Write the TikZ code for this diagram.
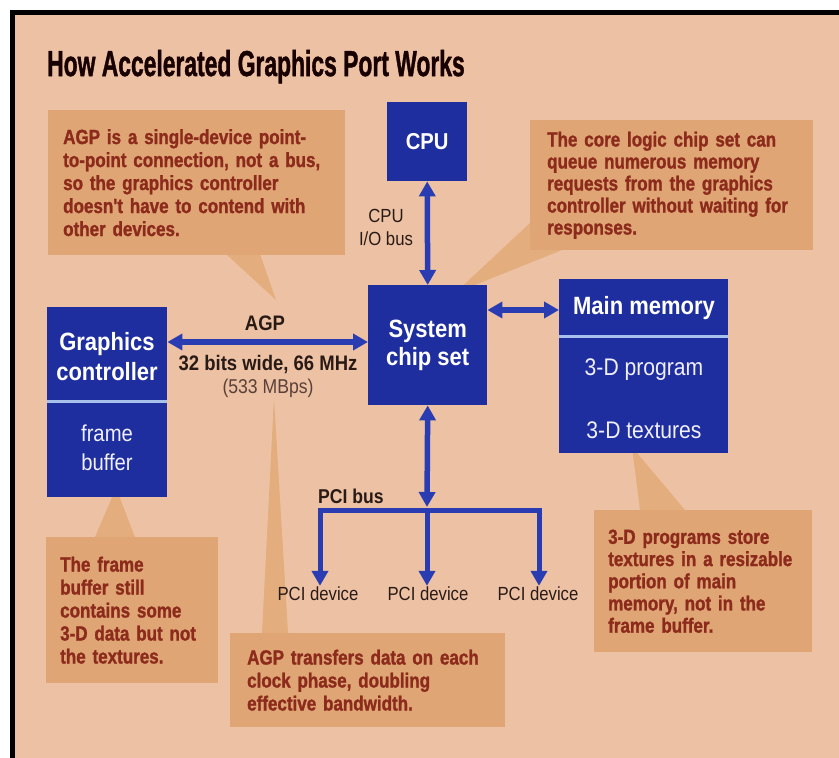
\documentclass[tikz,border=0pt]{standalone}
\usepackage{fontspec}
\usepackage{graphicx}
\setmainfont{Liberation Sans}[FakeStretch=0.88]
\newfontfamily\calfont{Liberation Sans Bold}[FakeStretch=0.83,FakeBold=1.2]
\newfontfamily\titlefont{Liberation Sans Bold}[FakeBold=1.5]
\usetikzlibrary{arrows.meta,calc}
\definecolor{bgc}{HTML}{EDC2A4}
\definecolor{callc}{HTML}{DFA574}
\definecolor{pointc}{HTML}{E2AA78}
\definecolor{calltext}{HTML}{8C2A1C}
\definecolor{boxblue}{HTML}{1F2E9E}
\definecolor{busblue}{HTML}{2A3CB2}
\definecolor{sepblue}{HTML}{A8C0EC}
\definecolor{labtext}{HTML}{2A1A16}
\definecolor{graytext}{HTML}{5A4038}
\hyphenpenalty=10000
\exhyphenpenalty=10000
\begin{document}
\begin{tikzpicture}[x=1pt,y=-1pt,
  callbox/.style={fill=callc, inner ysep=0pt, align=left, anchor=north west,
    font=\calfont\fontsize{20.5}{23}\selectfont, text=calltext},
  bluebox/.style={fill=boxblue, anchor=north west, inner sep=0pt},
  boxtitle/.style={text=white, align=center, inner sep=0pt,
    font=\bfseries\fontsize{25}{30}\selectfont},
  boxtext/.style={text=white!94!blue, align=center, inner sep=0pt,
    font=\fontsize{24}{29}\selectfont},
  sepline/.style={draw=sepblue, line width=3pt},
  bus/.style={draw=busblue, line width=5.5pt, >={Triangle[width=16pt,length=15pt]}},
  pointer/.style={fill=pointc, opacity=0.85},
  lab/.style={text=labtext, inner sep=0pt},
  pcidev/.style={text=labtext, inner sep=1pt, font=\fontsize{19}{22}\selectfont}
]
\useasboundingbox (0,0) rectangle (839,758);
% background and frame
\fill[white] (0,0) rectangle (839,758);
\fill[bgc] (12,12) rectangle (860,780);
\draw[black, line width=5pt] (12,780) -- (12,12) -- (860,12);

% title
\node[anchor=base west, inner sep=0pt, text=black!90!red] (title) at (47,76)
  {\scalebox{0.635}[1]{\titlefont\fontsize{36}{36}\selectfont How Accelerated Graphics Port Works}};

% pointers (under everything)
\fill[pointer] (226,254) -- (260,254) -- (276,300) -- cycle;
\fill[pointer] (531,222) -- (562,250) -- (455,293) -- cycle;
\fill[pointer] (95,537) -- (135,537) -- (116,488) -- cycle;
\fill[pointer] (262,633) -- (288,633) -- (274,398) -- cycle;
\fill[pointer] (640,510) -- (685,510) -- (632,447) -- cycle;

% callouts
\node[callbox, text width=267pt, inner xsep=15pt, minimum height=145pt] (c1) at (48,110)
  {AGP is a single-device point-\\to-point connection, not a bus,\\so the graphics controller\\doesn't have to contend with\\other devices.};
\node[callbox, text width=249pt, inner xsep=17pt, minimum height=130pt,
  font=\calfont\fontsize{20.5}{22}\selectfont] (c2) at (530,120)
  {The core logic chip set can\\queue numerous memory\\requests from the graphics\\controller without waiting for\\responses.};
\node[callbox, text width=144pt, inner xsep=14pt, minimum height=146pt] (c3) at (46,537)
  {The frame\\buffer still\\contains some\\3-D data but not\\the textures.};
\node[callbox, text width=241pt, inner xsep=17pt, minimum height=94pt] (c4) at (230,633)
  {AGP transfers data on each\\clock phase, doubling\\effective bandwidth.};
\node[callbox, text width=190pt, inner xsep=14pt, minimum height=142pt,
  font=\calfont\fontsize{20.5}{22.2}\selectfont] (c5) at (594,510)
  {3-D programs store\\textures in a resizable\\portion of main\\memory, not in the\\frame buffer.};

% blue boxes
\node[bluebox, minimum width=80pt, minimum height=79pt, text=white,
  font=\bfseries\fontsize{23}{28}\selectfont] (cpu) at (387,102) {CPU};
\node[bluebox, minimum width=119pt, minimum height=120pt, text=white, align=center,
  font=\bfseries\fontsize{25}{28}\selectfont] (sys) at (368,285) {System\\chip set};
\node[bluebox, minimum width=120pt, minimum height=190pt] (gc) at (47,307) {};
\draw[sepline] (gc.west |- 0,401) -- (gc.east |- 0,401);
\node[boxtitle] (gct) at (107,357) {Graphics\\controller};
\node[boxtext, font=\fontsize{23}{29}\selectfont] (gcb) at (107,448) {frame\\buffer};

\node[bluebox, minimum width=169pt, minimum height=174pt] (mm) at (559,279) {};
\draw[sepline] (mm.west |- 0,336) -- (mm.east |- 0,336);
\node[boxtitle] (mmt) at (644,308) {Main memory};
\node[boxtext] (mmp) at (644,370) {3-D program};
\node[boxtext] (mmx) at (644,430) {3-D textures};

% PCI devices
\node[pcidev] (pd1) at (318,594) {PCI device};
\node[pcidev] (pd2) at (428,594) {PCI device};
\node[pcidev] (pd3) at (538,594) {PCI device};
\coordinate (busL) at (320,510);
\coordinate (busR) at (539,510);
\coordinate (busM) at (427,510);
\coordinate (busTop) at (427,507);

% connectors
\draw[bus, <->] (cpu.south) -- (sys.north);
\draw[bus, <->] (gc.east |- 0,342) -- (sys.west |- 0,342);
\draw[bus, <->] (sys.east |- 0,310) -- (mm.west |- 0,310);
\draw[bus, <->] (sys.south) -- (busTop);
\draw[bus, <->, line width=5pt] (pd1.north -| busL) -- (busL) -- (busR) -- (pd3.north -| busR);
\draw[bus, ->, line width=5pt] (busM) -- (pd2.north -| busM);

% labels
\node[lab, align=center, font=\fontsize{19}{23}\selectfont] (cpubus) at (386,227) {CPU\\I/O bus};
\node[lab, font=\bfseries\fontsize{21}{24}\selectfont] (agp) at (265,323) {AGP};
\node[lab, font=\bfseries\fontsize{21}{24}\selectfont] (agpw) at (268,365) {32 bits wide, 66 MHz};
\node[lab, text=graytext, font=\fontsize{20}{24}\selectfont] (agpr) at (268,388) {(533 MBps)};
\node[lab, font=\bfseries\fontsize{20}{24}\selectfont] (pcibus) at (351,496) {PCI bus};
\end{tikzpicture}
\end{document}
